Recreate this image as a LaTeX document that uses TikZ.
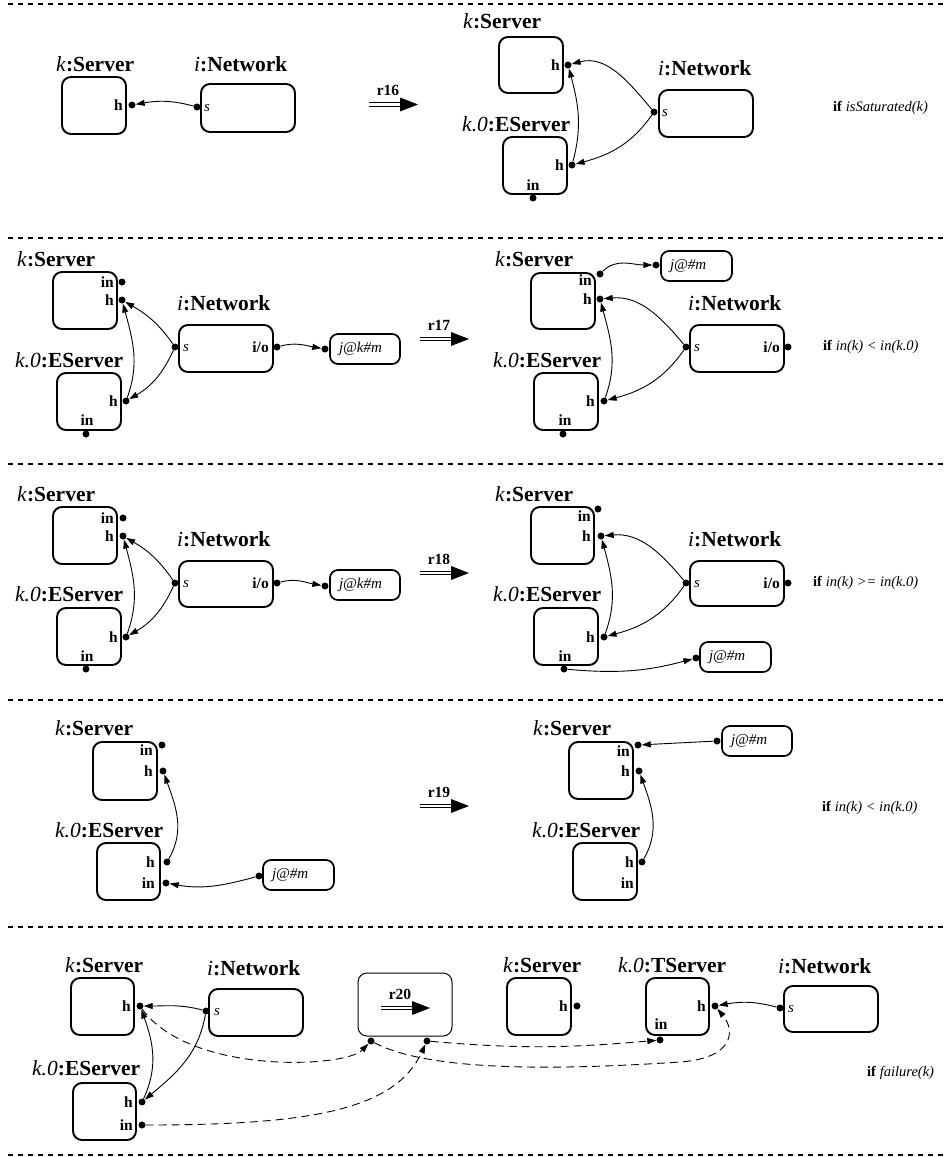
\documentclass[tikz,border=0pt]{standalone}
\usepackage{fontspec}
\setmainfont{Liberation Serif}
\usetikzlibrary{arrows.meta}
\newcommand{\ruleArrow}[4]{%
  \draw[line width=1.1pt] (#2,#3-1.9) -- (#2+34,#3-1.9) (#2,#3+1.9) -- (#2+34,#3+1.9);
  \fill (#2+31,#3-7) -- (#2+49,#3) -- (#2+31,#3+7) -- cycle;
  \node[rlab] (#1) at (#2+19,#3-14) {#4};}
\begin{document}
\begin{tikzpicture}[x=1pt,y=-1pt,
 box/.style={draw, line width=1.9pt, rounded corners=9pt, inner sep=0pt, minimum width=64pt, minimum height=57pt},
 nbox/.style={box, minimum width=94pt, minimum height=47pt},
 msg/.style={draw, line width=1.7pt, rounded corners=8pt, inner sep=0pt, minimum height=30pt, minimum width=70pt, text width=52pt, align=left, font=\fontsize{15}{17}\selectfont\itshape},
 port/.style={circle, fill, inner sep=0pt, minimum size=7pt},
 ttl/.style={anchor=base west, inner sep=0pt, font=\fontsize{21.5}{24}\selectfont},
 plab/.style={inner sep=0pt, font=\fontsize{15.5}{17}\selectfont\bfseries},
 slab/.style={inner sep=0pt, anchor=west, font=\fontsize{15}{17}\selectfont\itshape},
 cond/.style={inner sep=0pt, anchor=west, font=\fontsize{14.5}{17}\selectfont},
 rlab/.style={inner sep=0pt, font=\fontsize{15.5}{17}\selectfont\bfseries},
 conn/.style={line width=0.9pt, -{Triangle[length=9pt,width=6pt]}},
 dconn/.style={conn, dash pattern=on 8pt off 5pt},
 sepline/.style={line width=1.2pt, dash pattern=on 5pt off 5pt}]
\useasboundingbox (0,0) rectangle (947,1157);

% separators
\foreach \yy in {4,238,464,700,927,1155} \draw[sepline] (8,\yy) -- (947,\yy);

% ---------- Row 1 left ----------
\node[ttl] (t1a) at (56,71) {\textit{k}\textbf{:Server}};
\node[box] (S1a) at (94,105.5) {};
\node[plab, anchor=east] (S1ah) at (123,105) {h};
\node[port] (p1ah) at (132,105) {};
\node[ttl] (t1an) at (194,71) {\textit{i}\textbf{:Network}};
\node[nbox, minimum height=48pt] (N1a) at (248,108) {};
\node[port] (p1as) at (197,107) {};
\node[slab] (N1as) at (204,108) {s};
\draw[conn] (p1as) to[out=165,in=10] (p1ah);
\ruleArrow{r16}{369}{104.5}{r16}

% ---------- Row 1 right ----------
\node[ttl] (t1b) at (463,28) {\textit{k}\textbf{:Server}};
\node[box, minimum height=56pt] (S1b) at (531,65) {};
\node[plab, anchor=east] (S1bh) at (560,65) {h};
\node[port] (p1bh) at (568,65) {};
\node[ttl] (t1be) at (462,131) {\textit{k.0}\textbf{:EServer}};
\node[box] (E1b) at (535,165.5) {};
\node[plab, anchor=east] (E1bh) at (564,165) {h};
\node[port] (p1beh) at (572,165) {};
\node[plab] (E1bin) at (533,185) {in};
\node[port] (p1bein) at (533,198) {};
\node[ttl] (t1bn) at (658,75) {\textit{i}\textbf{:Network}};
\node[nbox] (N1b) at (706,113.5) {};
\node[port] (p1bs) at (654,112) {};
\node[slab] (N1bs) at (662,113) {s};
\draw[conn] (p1bs) to[out=130,in=15] (p1bh);
\draw[conn] (p1bs) to[out=235,in=15] (p1beh);
\draw[conn] (p1beh) to[out=75,in=-75] (p1bh);
\node[cond] (c16) at (833,108) {\textbf{if} \textit{isSaturated(k)}};

% ---------- Row 2 left ----------
\node[ttl] (t2a) at (17,266) {\textit{k}\textbf{:Server}};
\node[box] (S2a) at (85,300.5) {};
\node[plab, anchor=east] (S2ain) at (114,282) {in};
\node[port] (p2ain) at (122,282) {};
\node[plab, anchor=east] (S2ah) at (114,300) {h};
\node[port] (p2ah) at (122,300) {};
\node[ttl] (t2an) at (177,310) {\textit{i}\textbf{:Network}};
\node[nbox] (N2a) at (226,348.5) {};
\node[port] (p2as) at (175,347) {};
\node[slab] (N2as) at (183,348) {s};
\node[plab, anchor=east] (N2aio) at (269,347) {i/o};
\node[port] (p2aio) at (277,347) {};
\node[msg] (M2a) at (365,349) {j@k\#m};
\node[port] (p2am) at (325,349) {};
\node[ttl] (t2ae) at (15,367) {\textit{k.0}\textbf{:EServer}};
\node[box] (E2a) at (89,401.5) {};
\node[plab, anchor=east] (E2ah) at (118,401) {h};
\node[port] (p2aeh) at (126,401) {};
\node[plab] (E2ain) at (87,420) {in};
\node[port] (p2aein) at (86,434) {};
\draw[conn] (p2as) to[out=125,in=-30] (p2ah);
\draw[conn] (p2as) to[out=245,in=30] (p2aeh);
\draw[conn] (p2aeh) to[out=70,in=-75] (p2ah);
\draw[conn] (p2aio) to[out=15,in=170] (p2am);
\ruleArrow{r17}{420}{339}{r17}

% ---------- Row 2 right ----------
\node[ttl] (t2b) at (495,266) {\textit{k}\textbf{:Server}};
\node[box, minimum height=56pt] (S2b) at (563,301) {};
\node[plab, anchor=east] (S2bin) at (592,280) {in};
\node[port] (p2bin) at (600,274) {};
\node[plab, anchor=east] (S2bh) at (592,299) {h};
\node[port] (p2bh) at (600,299) {};
\node[msg, minimum width=71pt, text width=53pt] (M2b) at (696.5,266) {j@\#m};
\node[port] (p2bm) at (656,265) {};
\draw[conn] (p2bin) to[out=45,in=180] (p2bm);
\node[ttl] (t2bn) at (688,310) {\textit{i}\textbf{:Network}};
\node[nbox] (N2b) at (737,348.5) {};
\node[port] (p2bs) at (686,347) {};
\node[slab] (N2bs) at (694,348) {s};
\node[plab, anchor=east] (N2bio) at (780,347) {i/o};
\node[port] (p2bio) at (788,347) {};
\node[ttl] (t2be) at (493,367) {\textit{k.0}\textbf{:EServer}};
\node[box] (E2b) at (566,401.5) {};
\node[plab, anchor=east] (E2bh) at (595,401) {h};
\node[port] (p2beh) at (604,401) {};
\node[plab] (E2bin) at (565,420) {in};
\node[port] (p2bein) at (563,434) {};
\draw[conn] (p2bs) to[out=130,in=5] (p2bh);
\draw[conn] (p2bs) to[out=235,in=15] (p2beh);
\draw[conn] (p2beh) to[out=70,in=-75] (p2bh);
\node[cond] (c17) at (823,347) {\textbf{if} \textit{in(k) < in(k.0)}};

% ---------- Row 3 left ----------
\node[ttl] (t3a) at (17,501) {\textit{k}\textbf{:Server}};
\node[box] (S3a) at (85,535.5) {};
\node[plab, anchor=east] (S3ain) at (114,518) {in};
\node[port] (p3ain) at (123,518) {};
\node[plab, anchor=east] (S3ah) at (114,536) {h};
\node[port] (p3ah) at (123,536) {};
\node[ttl] (t3an) at (177,546) {\textit{i}\textbf{:Network}};
\node[nbox, minimum height=46pt] (N3a) at (226,584) {};
\node[port] (p3as) at (175,583) {};
\node[slab] (N3as) at (183,584) {s};
\node[plab, anchor=east] (N3aio) at (269,583) {i/o};
\node[port] (p3aio) at (277,583) {};
\node[msg] (M3a) at (365,585) {j@k\#m};
\node[port] (p3am) at (325,586) {};
\node[ttl] (t3ae) at (15,601) {\textit{k.0}\textbf{:EServer}};
\node[box] (E3a) at (89,636.5) {};
\node[plab, anchor=east] (E3ah) at (118,637) {h};
\node[port] (p3aeh) at (126,637) {};
\node[plab] (E3ain) at (87,656) {in};
\node[port] (p3aein) at (86,669) {};
\draw[conn] (p3as) to[out=125,in=-30] (p3ah);
\draw[conn] (p3as) to[out=245,in=30] (p3aeh);
\draw[conn] (p3aeh) to[out=70,in=-75] (p3ah);
\draw[conn] (p3aio) to[out=15,in=170] (p3am);
\ruleArrow{r18}{420}{573}{r18}

% ---------- Row 3 right ----------
\node[ttl] (t3b) at (495,501) {\textit{k}\textbf{:Server}};
\node[box, minimum width=63pt] (S3b) at (562.5,535.5) {};
\node[plab, anchor=east] (S3bin) at (591,516) {in};
\node[port] (p3bin) at (598,509) {};
\node[plab, anchor=east] (S3bh) at (591,536) {h};
\node[port] (p3bh) at (601,536) {};
\node[ttl] (t3bn) at (688,546) {\textit{i}\textbf{:Network}};
\node[nbox, minimum height=45pt] (N3b) at (737,583.5) {};
\node[port] (p3bs) at (686,583) {};
\node[slab] (N3bs) at (694,584) {s};
\node[plab, anchor=east] (N3bio) at (780,583) {i/o};
\node[port] (p3bio) at (788,583) {};
\node[ttl] (t3be) at (493,601) {\textit{k.0}\textbf{:EServer}};
\node[box] (E3b) at (566,636.5) {};
\node[plab, anchor=east] (E3bh) at (595,637) {h};
\node[port] (p3beh) at (604,637) {};
\node[plab] (E3bin) at (565,656) {in};
\node[port] (p3bein) at (564,669) {};
\node[msg, minimum width=71pt, text width=53pt] (M3b) at (735.5,657) {j@\#m};
\node[port] (p3bm) at (696,658) {};
\draw[conn] (p3bs) to[out=130,in=5] (p3bh);
\draw[conn] (p3bs) to[out=235,in=15] (p3beh);
\draw[conn] (p3beh) to[out=70,in=-75] (p3bh);
\draw[conn] (p3bein) to[out=-5,in=195] (p3bm);
\node[cond] (c18) at (813,583) {\textbf{if} \textit{in(k) >= in(k.0)}};

% ---------- Row 4 left ----------
\node[ttl] (t4a) at (55,735) {\textit{k}\textbf{:Server}};
\node[box, minimum height=58pt] (S4a) at (125,771) {};
\node[plab, anchor=east] (S4ain) at (153,750) {in};
\node[port] (p4ain) at (162,745) {};
\node[plab, anchor=east] (S4ah) at (153,771) {h};
\node[port] (p4ah) at (163,771) {};
\node[ttl] (t4ae) at (55,837) {\textit{k.0}\textbf{:EServer}};
\node[box, minimum width=63pt] (E4a) at (128.5,871.5) {};
\node[plab, anchor=east] (E4ah) at (155,862) {h};
\node[port] (p4aeh) at (167,862) {};
\node[plab, anchor=east] (E4ain) at (155,883) {in};
\node[port] (p4aein) at (166,883) {};
\node[msg, minimum width=71pt, text width=53pt] (M4a) at (298.5,875) {j@\#m};
\node[port] (p4am) at (259,876) {};
\draw[conn] (p4aeh) to[out=60,in=-70] (p4ah);
\draw[conn] (p4am) to[out=195,in=-10] (p4aein);
\ruleArrow{r19}{420}{806}{r19}

% ---------- Row 4 right ----------
\node[ttl] (t4b) at (533,735) {\textit{k}\textbf{:Server}};
\node[box] (S4b) at (601,770.5) {};
\node[plab, anchor=east] (S4bin) at (630,751) {in};
\node[port] (p4bin) at (638,745) {};
\node[plab, anchor=east] (S4bh) at (630,771) {h};
\node[port] (p4bh) at (639,771) {};
\node[msg] (M4b) at (757,741) {j@\#m};
\node[port] (p4bm) at (717,741) {};
\draw[conn] (p4bm) -- (p4bin);
\node[ttl] (t4be) at (532,837) {\textit{k.0}\textbf{:EServer}};
\node[box] (E4b) at (605,871.5) {};
\node[plab, anchor=east] (E4bh) at (634,862) {h};
\node[port] (p4beh) at (642,862) {};
\node[plab, anchor=east] (E4bin) at (634,883) {in};
\draw[conn] (p4beh) to[out=60,in=-70] (p4bh);
\node[cond] (c19) at (822,808) {\textbf{if} \textit{in(k) < in(k.0)}};

% ---------- Row 5 left ----------
\node[ttl] (t5a) at (65,972) {\textit{k}\textbf{:Server}};
\node[box, minimum width=63pt] (S5a) at (102.5,1006.5) {};
\node[plab, anchor=east] (S5ah) at (131,1006) {h};
\node[port] (p5ah) at (140,1006) {};
\node[ttl] (t5an) at (207,975) {\textit{i}\textbf{:Network}};
\node[nbox] (N5a) at (256,1012.5) {};
\node[port] (p5as) at (206,1011) {};
\node[slab] (N5as) at (214,1012) {s};
\node[ttl] (t5ae) at (32,1075) {\textit{k.0}\textbf{:EServer}};
\node[box, minimum width=63pt] (E5a) at (104.5,1111.5) {};
\node[plab, anchor=east] (E5ah) at (133,1102) {h};
\node[port] (p5aeh) at (142,1102) {};
\node[plab, anchor=east] (E5ain) at (133,1125) {in};
\node[port] (p5aein) at (142,1125) {};
\node[draw, line width=1pt, rounded corners=9pt, minimum width=94pt, minimum height=63pt, inner sep=0pt] (R5) at (405,1004.5) {};
\node[port] (p5rl) at (371,1041) {};
\node[port] (p5rr) at (427,1041) {};
\ruleArrow{r20}{381}{1008}{r20}

% ---------- Row 5 right ----------
\node[ttl] (t5b) at (503,972) {\textit{k}\textbf{:Server}};
\node[box] (S5b) at (539,1006.5) {};
\node[plab, anchor=east] (S5bh) at (568,1006) {h};
\node[port] (p5bh) at (577,1006) {};
\node[ttl] (t5bt) at (618,972) {\textit{k.0}\textbf{:TServer}};
\node[box, minimum width=63pt] (T5b) at (677.5,1006.5) {};
\node[plab, anchor=east] (T5bh) at (706,1006) {h};
\node[port] (p5bth) at (715,1006) {};
\node[plab] (T5bin) at (661,1024) {in};
\node[port] (p5btin) at (660,1040) {};
\node[ttl] (t5bn) at (778,973) {\textit{i}\textbf{:Network}};
\node[nbox, minimum height=46pt] (N5b) at (831,1009) {};
\node[port] (p5bs) at (780,1008) {};
\node[slab] (N5bs) at (788,1009) {s};
\node[cond] (c20) at (867,1073) {\textbf{if} \textit{failure(k)}};

% row 5 connectors
\draw[conn] (p5as) to[out=165,in=0] (p5ah);
\draw[conn] (p5as) to[out=260,in=40] (p5aeh);
\draw[conn] (p5aeh) to[out=65,in=-70] (p5ah);
\draw[dconn] (p5ah) .. controls (190,1075) and (345,1068) .. (p5rl);
\draw[dconn] (p5aein) .. controls (310,1125) and (395,1110) .. (p5rr);
\draw[dconn] (p5rl) .. controls (430,1072) and (560,1070) .. (680,1062) .. controls (735,1058) and (735,1030) .. (p5bth);
\draw[dconn] (p5rr) to[out=-5,in=185] (p5btin);
\draw[conn] (p5bs) to[out=165,in=10] (p5bth);
\end{tikzpicture}
\end{document}
